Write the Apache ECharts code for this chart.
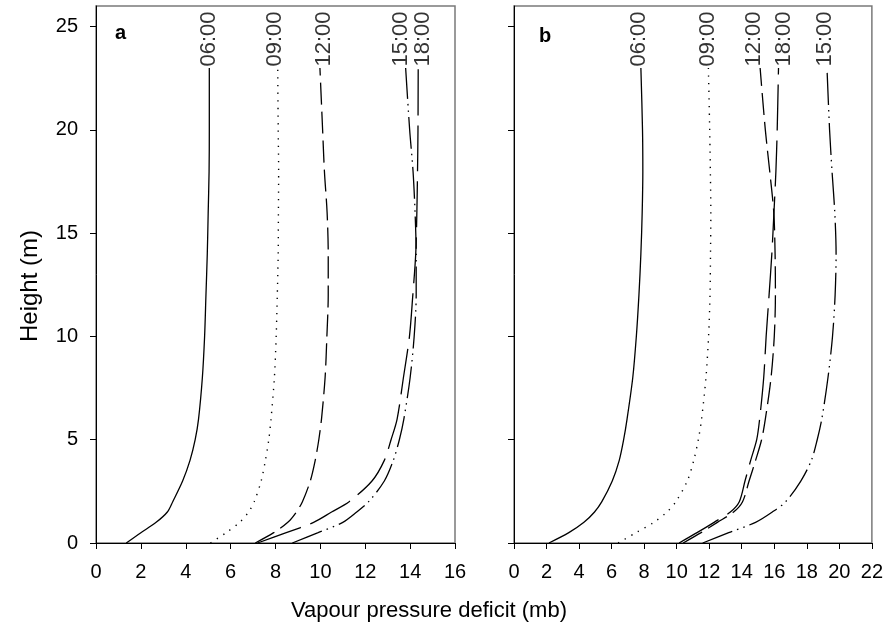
<!DOCTYPE html>
<html><head><meta charset="utf-8">
<script src="https://cdn.jsdelivr.net/npm/echarts@6/dist/echarts.min.js"></script>
<style>html,body{margin:0;padding:0;background:#fff}#c{width:886px;height:636px}</style>
</head><body><div id="c"></div>
<script>
// Heights (m) at which each profile is read
const heights = [0, 0.5, 1, 1.5, 2, 3, 4, 5, 6, 8, 10, 12, 14, 16, 18, 20, 23];
const times = ['06:00', '09:00', '12:00', '15:00', '18:00'];

// Panel a: vapour pressure deficit (mb)
const a0600 = [1.35, 2.0, 2.68, 3.18, 3.42, 3.86, 4.19, 4.42, 4.57, 4.74, 4.84, 4.9, 4.96, 5.0, 5.04, 5.05, 5.05];
const a0900 = [5.1, 5.8, 6.4, 6.8, 7.05, 7.36, 7.55, 7.7, 7.8, 7.95, 8.03, 8.08, 8.12, 8.13, 8.14, 8.12, 8.1];
const a1200 = [7.1, 7.92, 8.55, 8.93, 9.2, 9.55, 9.77, 9.93, 10.05, 10.21, 10.29, 10.35, 10.35, 10.3, 10.18, 10.1, 9.98];
const a1500 = [8.75, 9.9, 11.0, 11.62, 12.15, 12.85, 13.25, 13.52, 13.72, 14.0, 14.18, 14.27, 14.27, 14.22, 14.13, 13.98, 13.8];
const a1800 = [7.2, 8.48, 9.7, 10.5, 11.28, 12.3, 12.85, 13.15, 13.42, 13.7, 13.97, 14.12, 14.25, 14.3, 14.33, 14.35, 14.36];

// Panel b: vapour pressure deficit (mb)
const b0600 = [2.15, 3.37, 4.3, 4.95, 5.4, 6.04, 6.47, 6.74, 6.95, 7.3, 7.52, 7.68, 7.8, 7.88, 7.92, 7.9, 7.8];
const b0900 = [6.4, 7.5, 8.6, 9.4, 9.95, 10.65, 11.05, 11.33, 11.53, 11.8, 11.96, 12.05, 12.08, 12.1, 12.07, 12.03, 11.95];
const b1200 = [10.4, 11.5, 12.5, 13.5, 14.05, 14.45, 14.85, 15.22, 15.45, 15.8, 16.0, 16.07, 16.05, 15.97, 15.72, 15.45, 15.13];
const b1500 = [11.6, 13.2, 14.85, 15.88, 16.7, 17.63, 18.28, 18.64, 18.92, 19.3, 19.58, 19.74, 19.8, 19.72, 19.55, 19.4, 19.24];
const b1800 = [10.15, 11.25, 12.3, 13.3, 13.85, 14.2, 14.55, 14.92, 15.1, 15.35, 15.5, 15.68, 15.85, 15.98, 16.1, 16.18, 16.26];

// Axis ticks
const xTicksA = [0, 2, 4, 6, 8, 10, 12, 14, 16];
const xTicksB = [0, 2, 4, 6, 8, 10, 12, 14, 16, 18, 20, 22];
const yTicks = [0, 5, 10, 15, 20, 25];

const panelA = {'06:00': a0600, '09:00': a0900, '12:00': a1200, '15:00': a1500, '18:00': a1800};
const panelB = {'06:00': b0600, '09:00': b0900, '12:00': b1200, '15:00': b1500, '18:00': b1800};

const FONT = 'Liberation Sans, Arial, Helvetica, sans-serif';
const dashes = {
  '06:00': 'solid',
  '09:00': [1.3, 6.3],
  '12:00': [22, 7],
  '15:00': [32, 5, 1.5, 5, 1.5, 5],
  '18:00': [46, 10]
};
// lateral nudges of the rotated time labels (px)
const nudgeA = {'06:00': 0, '09:00': -3, '12:00': 4, '15:00': -5, '18:00': 5};
const nudgeB = {'06:00': -2, '09:00': 0, '12:00': -6, '15:00': -2, '18:00': 5};

function lineSeries(panel, gi) {
  return times.map(t => ({
    type: 'line', name: t + (gi ? 'b' : 'a'),
    xAxisIndex: gi, yAxisIndex: gi,
    data: heights.map((h, i) => [panel[t][i], h]),
    showSymbol: false, symbol: 'none', smooth: 0.3,
    lineStyle: {color: '#000', width: t === '09:00' ? 1.4 : 1.3, type: dashes[t]},
    silent: true, animation: false, z: 3
  }));
}
function labelSeries(panel, gi, nudge) {
  const last = heights.length - 1;
  return {
    type: 'scatter', xAxisIndex: gi, yAxisIndex: gi,
    symbol: 'circle', symbolSize: 1, itemStyle: {color: 'rgba(0,0,0,0)'},
    animation: false, silent: true, z: 5,
    data: times.map(t => ({
      name: t, value: [panel[t][last], heights[last]],
      label: {offset: [0, nudge[t]]}
    })),
    label: {
      show: true, formatter: '{b}', position: 'top', distance: 1,
      rotate: 90, align: 'left', verticalAlign: 'middle',
      color: '#000', fontSize: 22, fontFamily: FONT
    }
  };
}

const axisCommon = {
  type: 'value',
  axisLine: {show: true, lineStyle: {color: '#000', width: 1}},
  axisTick: {show: true, inside: false, length: 6, lineStyle: {color: '#000', width: 1}},
  splitLine: {show: false},
  axisLabel: {color: '#000', fontSize: 20, fontFamily: FONT}
};

const option = {
  backgroundColor: '#fff',
  animation: false,
  grid: [
    {left: 96, top: 6, width: 359, height: 537, show: true, borderColor: '#7a7a7a', borderWidth: 1.5},
    {left: 514, top: 6, width: 358, height: 537, show: true, borderColor: '#7a7a7a', borderWidth: 1.5}
  ],
  xAxis: [
    Object.assign({}, axisCommon, {gridIndex: 0, min: 0, max: 16, interval: 2,
      axisTick: Object.assign({}, axisCommon.axisTick, {customValues: xTicksA}),
      axisLabel: Object.assign({}, axisCommon.axisLabel, {margin: 19, customValues: xTicksA})}),
    Object.assign({}, axisCommon, {gridIndex: 1, min: 0, max: 22, interval: 2,
      axisTick: Object.assign({}, axisCommon.axisTick, {customValues: xTicksB}),
      axisLabel: Object.assign({}, axisCommon.axisLabel, {margin: 19, customValues: xTicksB})})
  ],
  yAxis: [
    Object.assign({}, axisCommon, {gridIndex: 0, min: 0, max: 26, interval: 5,
      axisTick: Object.assign({}, axisCommon.axisTick, {customValues: yTicks}),
      axisLabel: Object.assign({}, axisCommon.axisLabel, {margin: 18, customValues: yTicks})}),
    Object.assign({}, axisCommon, {gridIndex: 1, min: 0, max: 26, interval: 5,
      axisTick: Object.assign({}, axisCommon.axisTick, {customValues: yTicks}),
      axisLabel: {show: false}})
  ],
  title: [
    {text: 'a', left: 115, top: 23, padding: 0, textStyle: {fontSize: 20, fontWeight: 'bold', color: '#000', fontFamily: FONT}},
    {text: 'b', left: 539, top: 26, padding: 0, textStyle: {fontSize: 20, fontWeight: 'bold', color: '#000', fontFamily: FONT}}
  ],
  graphic: [
    {type: 'text', x: 30, y: 286, rotation: Math.PI / 2,
      style: {text: 'Height (m)', font: '24px ' + FONT, fill: '#000', align: 'center', verticalAlign: 'middle'}},
    {type: 'text', x: 429, y: 611,
      style: {text: 'Vapour pressure deficit (mb)', font: '22px ' + FONT, fill: '#000', align: 'center', verticalAlign: 'middle'}}
  ],
  series: [].concat(
    lineSeries(panelA, 0), [labelSeries(panelA, 0, nudgeA)],
    lineSeries(panelB, 1), [labelSeries(panelB, 1, nudgeB)]
  )
};

const chart = echarts.init(document.getElementById('c'), null, {renderer: 'canvas'});
chart.setOption(option);
</script>
</body></html>
